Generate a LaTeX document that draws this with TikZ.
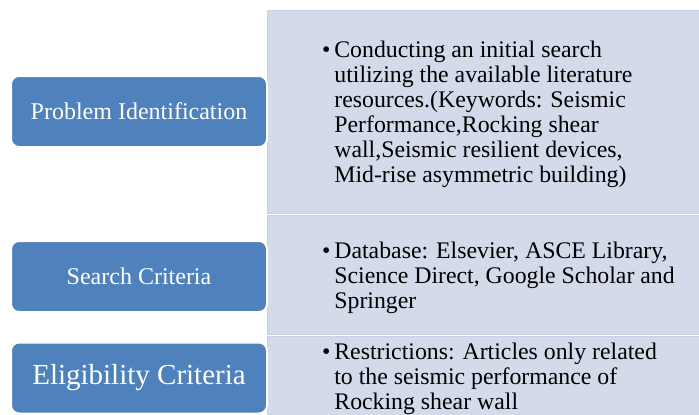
\documentclass[tikz,border=0pt]{standalone}
\usepackage{fontspec}
\setmainfont{Liberation Serif}

\definecolor{headblue}{HTML}{4F81BD}
\definecolor{panelfill}{HTML}{D3DAEA}
\definecolor{paneledge}{HTML}{C8D0E3}

\tikzset{every picture/.style={line width=0.75pt}}

\begin{document}
\begin{tikzpicture}[x=1pt,y=1pt,yscale=-1,
  headbox/.style={rounded corners=8pt,fill=headblue,draw=white,line width=2pt,
    text=white,minimum width=256pt,minimum height=71pt,inner sep=0pt},
  panel/.style={fill=panelfill,draw=paneledge,line width=1pt},
  notetext/.style={anchor=north west,align=left,inner sep=0pt,
    font=\fontsize{23.8}{24.9}\selectfont}]
  \useasboundingbox (0,0) rectangle (699,415);

  %Shape: Rectangle (notes, top)
  \path[panel] (267.5,10.5) rectangle (705,213.5) ;
  %Shape: Rectangle (notes, middle)
  \path[panel] (267.5,215.5) rectangle (705,334.5) ;
  %Shape: Rectangle (notes, bottom)
  \path[panel] (267.5,336.5) rectangle (705,420) ;

  %Shape: Rounded Rect
  \node[headbox,font=\fontsize{24}{28}\selectfont] (ident) at (139,111.5) {Problem Identification};
  %Shape: Rounded Rect
  \node[headbox,font=\fontsize{24}{28}\selectfont] (search) at (139,276.5) {Search Criteria};
  %Shape: Rounded Rect
  \node[headbox,font=\fontsize{29}{33}\selectfont] (elig) at (139,378) {Eligibility Criteria};

  % Text Node
  \node[notetext] (identnote) at (334,40.7) {\llap{\textbullet\hspace{4pt}}Conducting an initial search\\
    utilizing the available literature\\
    resources.(Keywords: Seismic\\
    Performance,Rocking shear\\
    wall,Seismic resilient devices,\\
    Mid-rise asymmetric building)};
  % Text Node
  \node[notetext] (searchnote) at (334,241.7) {\llap{\textbullet\hspace{4pt}}Database: Elsevier, ASCE Library,\\
    Science Direct, Google Scholar and\\
    Springer};
  % Text Node
  \node[notetext] (elignote) at (334,342.7) {\llap{\textbullet\hspace{4pt}}Restrictions: Articles only related\\
    to the seismic performance of\\
    Rocking shear wall};

\end{tikzpicture}
\end{document}
